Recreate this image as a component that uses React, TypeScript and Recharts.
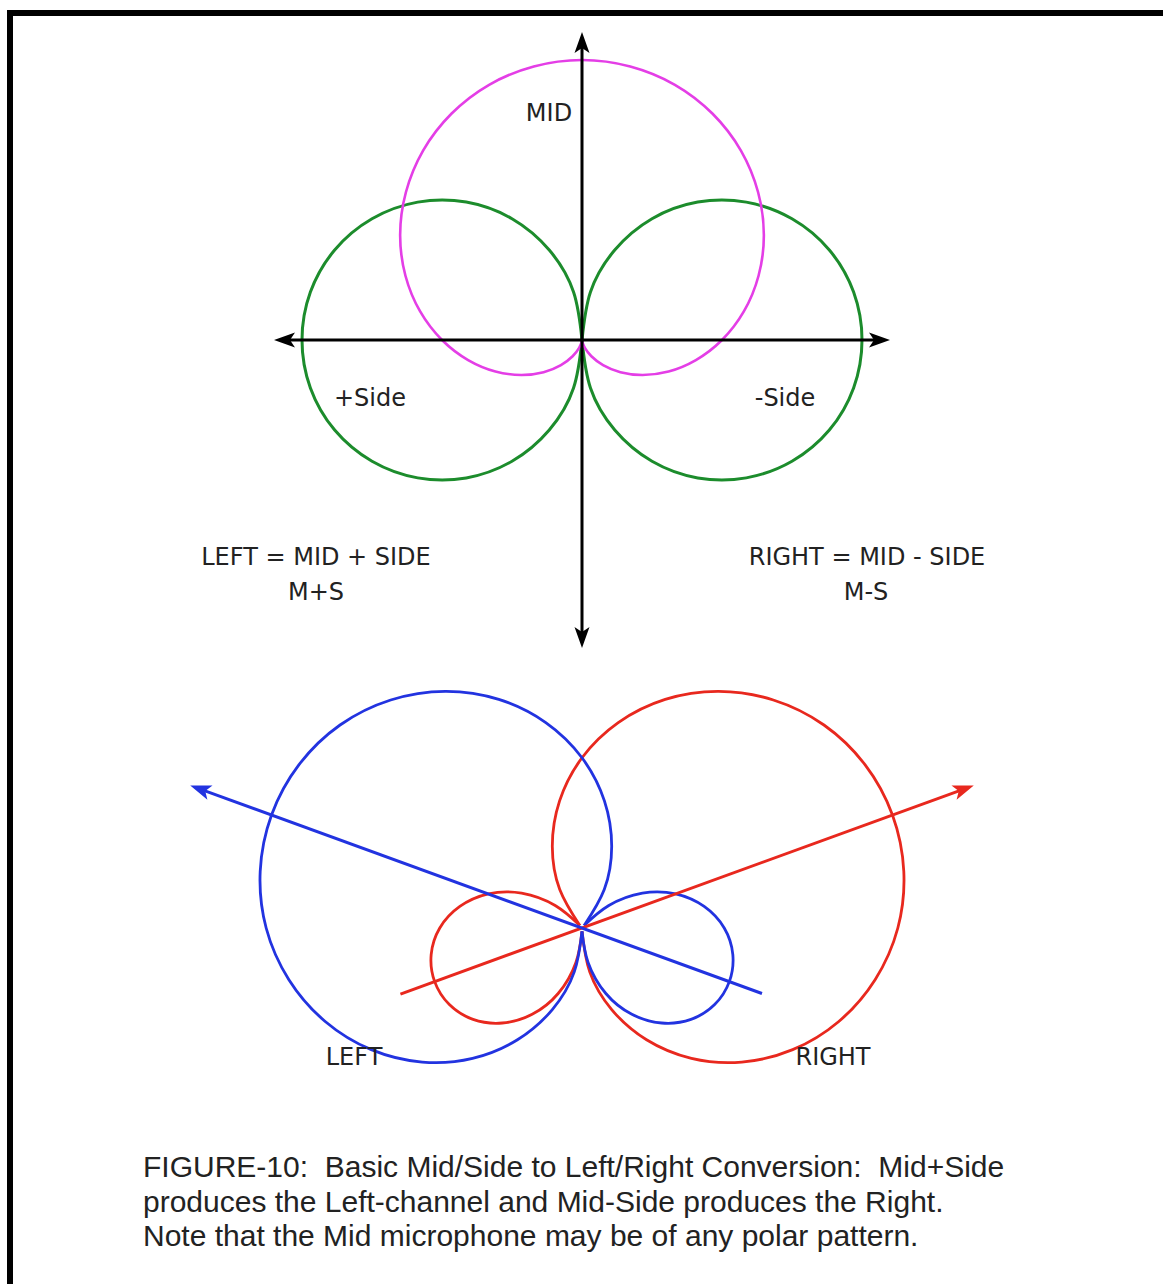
import React from "react";
import { LineChart, Line, XAxis, YAxis } from "recharts";

// polar angle of every sample, degrees clockwise from straight up (front)
const ANGLES = [0, 10, 20, 30, 40, 50, 60, 70, 80, 90, 100, 110, 120, 130, 140, 150, 160, 170,
  180, 190, 200, 210, 220, 230, 240, 250, 260, 270, 280, 290, 300, 310, 320, 330, 340, 350];

// MID microphone: cardioid facing front
const MID = [1.0, 0.992, 0.97, 0.933, 0.883, 0.821, 0.75, 0.671, 0.587, 0.5, 0.413, 0.329, 0.25, 0.179,
  0.117, 0.067, 0.03, 0.008, 0, 0.008, 0.03, 0.067, 0.117, 0.179, 0.25, 0.329, 0.413, 0.5, 0.587, 0.671,
  0.75, 0.821, 0.883, 0.933, 0.97, 0.992];

// SIDE microphone: figure-8, + to the left, - to the right
const SIDE = [0, -0.174, -0.342, -0.5, -0.643, -0.766, -0.866, -0.94, -0.985, -1, -0.985, -0.94, -0.866,
  -0.766, -0.643, -0.5, -0.342, -0.174, 0, 0.174, 0.342, 0.5, 0.643, 0.766, 0.866, 0.94, 0.985, 1, 0.985,
  0.94, 0.866, 0.766, 0.643, 0.5, 0.342, 0.174];

// LEFT = M+S
const LEFT = [0.608, 0.461, 0.31, 0.159, 0.012, -0.125, -0.249, -0.356, -0.443, -0.508, -0.547, -0.56,
  -0.547, -0.508, -0.443, -0.356, -0.249, -0.125, 0.012, 0.159, 0.31, 0.461, 0.608, 0.745, 0.869, 0.976,
  1.063, 1.128, 1.167, 1.18, 1.167, 1.128, 1.063, 0.976, 0.869, 0.745];

// RIGHT = M-S
const RIGHT = [0.608, 0.745, 0.869, 0.976, 1.063, 1.128, 1.167, 1.18, 1.167, 1.128, 1.063, 0.976, 0.869,
  0.745, 0.608, 0.461, 0.31, 0.159, 0.012, -0.125, -0.249, -0.356, -0.443, -0.508, -0.547, -0.56, -0.547,
  -0.508, -0.443, -0.356, -0.249, -0.125, 0.012, 0.159, 0.31, 0.461];

// arrows: [angle, length] for tail then tip
const AXIS_V = [[180, 1.1], [0, 1.1]];
const AXIS_H = [[270, 1.1], [90, 1.1]];
const LEFT_AXIS = [[110, 0.684], [290, 1.489]];
const RIGHT_AXIS = [[250, 0.69], [70, 1.489]];

const W = 1163;
const H = 1284;
const UNIT = 280;
const TOP = { x: 582, y: 340 };
const BOTTOM = { x: 582, y: 928 };
const HEAD = 21; // arrow head length in px

const MAGENTA = "#e43ee6";
const GREEN = "#1c8c2c";
const BLUE = "#2233e0";
const RED = "#e8281e";

function toXY(origin: { x: number; y: number }, deg: number, r: number) {
  const a = (deg * Math.PI) / 180;
  return { x: origin.x + r * UNIT * Math.sin(a), y: origin.y - r * UNIT * Math.cos(a) };
}

// one lobe = run of samples from index `from` to `to` (wrapping round the circle)
function lobe(values: number[], origin: { x: number; y: number }, from: number, to: number) {
  const pts = [];
  for (let k = from; k <= to; k++) {
    const i = k % ANGLES.length;
    pts.push(toXY(origin, ANGLES[i], Math.abs(values[i])));
  }
  return pts;
}

// shaft stops inside the head so its square end never pokes out of the point
function arrow(origin: { x: number; y: number }, spec: number[][], heads: boolean[]) {
  return spec.map(([deg, len], i) => ({
    ...toXY(origin, deg, heads[i] ? len - (HEAD - 6) / UNIT : len),
    head: heads[i] ? deg : null,
  }));
}

const arrowHead = (color: string) => (props: any) => {
  const { cx, cy, payload, index } = props;
  if (payload.head == null) return <g key={index} />;
  const a = (payload.head * Math.PI) / 180;
  const dx = Math.sin(a);
  const dy = -Math.cos(a);
  const w = 7.5;
  const tx = cx + dx * (HEAD - 6);
  const ty = cy + dy * (HEAD - 6);
  const bx = tx - dx * HEAD;
  const by = ty - dy * HEAD;
  const nx = tx - dx * (HEAD - 5);
  const ny = ty - dy * (HEAD - 5);
  return (
    <polygon
      key={index}
      points={`${tx},${ty} ${bx - dy * w},${by + dx * w} ${nx},${ny} ${bx + dy * w},${by - dx * w}`}
      fill={color}
    />
  );
};

const topSeries = [
  { id: "side+", data: lobe(SIDE, TOP, 18, 36), color: GREEN, width: 3 },
  { id: "side-", data: lobe(SIDE, TOP, 0, 18), color: GREEN, width: 3 },
  { id: "mid", data: lobe(MID, TOP, 18, 54), color: MAGENTA, width: 2.6 },
];

const bottomSeries = [
  { id: "right-big", data: lobe(RIGHT, BOTTOM, 32, 54), color: RED, width: 2.8 },
  { id: "right-small", data: lobe(RIGHT, BOTTOM, 18, 32), color: RED, width: 2.8 },
  { id: "left-big", data: lobe(LEFT, BOTTOM, 18, 40), color: BLUE, width: 2.8 },
  { id: "left-small", data: lobe(LEFT, BOTTOM, 4, 18), color: BLUE, width: 2.8 },
];

const topArrows = [
  { id: "axis-v", data: arrow(TOP, AXIS_V, [true, true]), color: "#000", width: 3 },
  { id: "axis-h", data: arrow(TOP, AXIS_H, [true, true]), color: "#000", width: 3 },
];

const bottomArrows = [
  { id: "right-axis", data: arrow(BOTTOM, RIGHT_AXIS, [false, true]), color: RED, width: 3 },
  { id: "left-axis", data: arrow(BOTTOM, LEFT_AXIS, [false, true]), color: BLUE, width: 3 },
];

const labelFont = { fontFamily: "'DejaVu Sans', Verdana, sans-serif", fontSize: 24, color: "#222" };

function Label({ x, y, text }: { x: number; y: number; text: string }) {
  return (
    <div
      style={{
        ...labelFont,
        position: "absolute",
        left: x,
        top: y,
        transform: "translate(-50%, -50%)",
        whiteSpace: "pre",
        lineHeight: 1,
      }}
    >
      {text}
    </div>
  );
}

const curve = (s: any) => (
  <Line
    key={s.id}
    data={s.data}
    dataKey="y"
    type="natural"
    stroke={s.color}
    strokeWidth={s.width}
    dot={false}
    activeDot={false}
    isAnimationActive={false}
  />
);

const shaft = (s: any) => (
  <Line
    key={s.id}
    data={s.data}
    dataKey="y"
    type="linear"
    stroke={s.color}
    strokeWidth={s.width}
    dot={arrowHead(s.color)}
    activeDot={false}
    isAnimationActive={false}
  />
);

export default function App() {
  return (
    <div style={{ position: "absolute", left: 0, top: 0, width: W, height: H, overflow: "hidden", background: "#fff" }}>
      <div
        style={{
          position: "absolute",
          left: 7,
          top: 10,
          width: 1300,
          height: 1400,
          border: "6px solid #000",
        }}
      />
      <div style={{ position: "absolute", left: 0, top: 0 }}>
        <LineChart width={W} height={H} margin={{ top: 0, right: 0, bottom: 0, left: 0 }}>
          <XAxis type="number" dataKey="x" domain={[0, W]} hide allowDataOverflow />
          <YAxis type="number" dataKey="y" domain={[0, H]} reversed hide allowDataOverflow />
          {topSeries.map(curve)}
          {topArrows.map(shaft)}
          {bottomSeries.map(curve)}
          {bottomArrows.map(shaft)}
        </LineChart>
      </div>
      <Label x={549} y={113} text="MID" />
      <Label x={370} y={398} text="+Side" />
      <Label x={785} y={398} text="-Side" />
      <Label x={316} y={557} text="LEFT = MID + SIDE" />
      <Label x={316} y={592} text="M+S" />
      <Label x={867} y={557} text="RIGHT = MID - SIDE" />
      <Label x={866} y={592} text="M-S" />
      <Label x={354} y={1057} text="LEFT" />
      <Label x={833} y={1057} text="RIGHT" />
      <div
        style={{
          position: "absolute",
          left: 143,
          top: 1150,
          fontFamily: "'Liberation Sans', Arial, sans-serif",
          fontSize: 30,
          lineHeight: "34.5px",
          color: "#222",
          whiteSpace: "pre",
        }}
      >
        {"FIGURE-10:  Basic Mid/Side to Left/Right Conversion:  Mid+Side\nproduces the Left-channel and Mid-Side produces the Right.\nNote that the Mid microphone may be of any polar pattern."}
      </div>
    </div>
  );
}
